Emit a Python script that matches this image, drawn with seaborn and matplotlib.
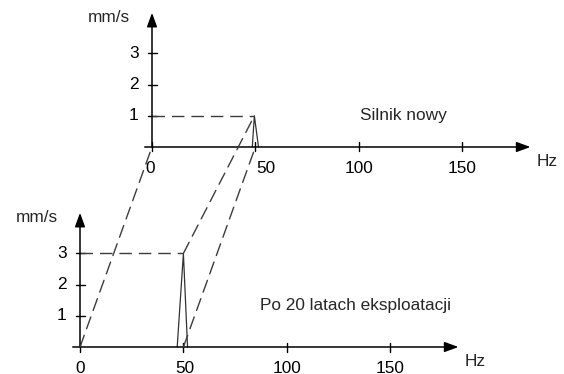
import matplotlib
matplotlib.use("Agg")
import matplotlib.pyplot as plt
from matplotlib.patches import ConnectionPatch
import seaborn as sns

# ---- data ----
freq_ticks = [0, 50, 100, 150]
amp_ticks = [1, 2, 3]
new_hz = [48.5, 49.5, 51.5]
new_amp = [0, 1, 0]
old_hz = [47.0, 50.0, 52.0]
old_amp = [0, 3, 0]
y_unit = "mm/s"
x_unit = "Hz"
caption_new = "Silnik nowy"
caption_old = "Po 20 latach eksploatacji"

sns.set_theme(style="white")
plt.rcParams["font.family"] = ["Liberation Sans", "DejaVu Sans"]
plt.rcParams["lines.scale_dashes"] = False

W, H = 564, 374
PX_HZ = 2.068
PX_MM = 31.2
XLIM = (-10, 190)
YLIM = (-0.5, 4.5)
DASH = (0, (9, 5))
DCOL = "#3c3c3c"
FS = 12.4


def add_axes(origin_px):
    ox, oy = origin_px
    left = ox + XLIM[0] * PX_HZ
    bottom = (H - oy) + YLIM[0] * PX_MM
    w = (XLIM[1] - XLIM[0]) * PX_HZ
    h = (YLIM[1] - YLIM[0]) * PX_MM
    return fig.add_axes([left / W, bottom / H, w / W, h / H])


def draw_panel(ax, hz, amp, caption, cap_xy, label_shift_px=None):
    label_shift_px = label_shift_px or {}
    arrow = dict(arrowstyle="-|>,head_length=0.6,head_width=0.22",
                 mutation_scale=14, color="black", lw=1.1,
                 shrinkA=0, shrinkB=0)
    ax.annotate("", xy=(183, 0), xytext=(-3.5, 0), arrowprops=arrow)
    ax.annotate("", xy=(0, 4.3), xytext=(0, 0), arrowprops=arrow)
    th = 4.5 / PX_MM
    tw = 4.5 / PX_HZ
    for f in freq_ticks:
        ax.plot([f, f], [-th, th], color="black", lw=1.0)
        dx = label_shift_px.get(f, 0) / PX_HZ
        ax.text(f + dx, -26 / PX_MM, str(f), ha="center", va="baseline",
                fontsize=FS, color="black")
    for a in amp_ticks:
        ax.plot([-tw, tw], [a, a], color="black", lw=1.0)
        ax.text(-13.5 / PX_HZ, a, str(a), ha="right", va="center",
                fontsize=FS, color="black")
    sns.lineplot(x=hz, y=amp, sort=False, estimator=None, ax=ax,
                 color="#333333", lw=0.9)
    sns.lineplot(x=[0, hz[1]], y=[amp[1], amp[1]], sort=False,
                 estimator=None, ax=ax, color=DCOL, lw=1.0, linestyle=DASH)
    ax.text(-21, 4.14, y_unit, ha="center", va="center", fontsize=FS)
    ax.text(191.3, -0.48, x_unit, ha="center", va="center", fontsize=FS)
    ax.text(cap_xy[0], cap_xy[1], caption, ha="left", va="baseline",
            fontsize=FS)
    ax.set_xlim(*XLIM)
    ax.set_ylim(*YLIM)
    ax.axis("off")


fig = plt.figure(figsize=(W / 100, H / 100), dpi=100)
ax_top = add_axes((152, 147))
ax_bot = add_axes((80, 347))

draw_panel(ax_top, new_hz, new_amp, caption_new, (100.7, 0.86),
           label_shift_px={0: -1.5, 50: 10})
draw_panel(ax_bot, old_hz, old_amp, caption_old, (87.0, 1.17),
           label_shift_px={50: 1})

pairs = [((0, 0), (0, 0)),
         ((old_hz[1], old_amp[1]), (new_hz[1], new_amp[1])),
         ((50, 0), (50, 0))]
for a, b in pairs:
    con = ConnectionPatch(xyA=a, coordsA=ax_bot.transData,
                          xyB=b, coordsB=ax_top.transData,
                          color=DCOL, lw=1.0, linestyle=DASH)
    fig.add_artist(con)

fig.savefig("out.png", dpi=100)
